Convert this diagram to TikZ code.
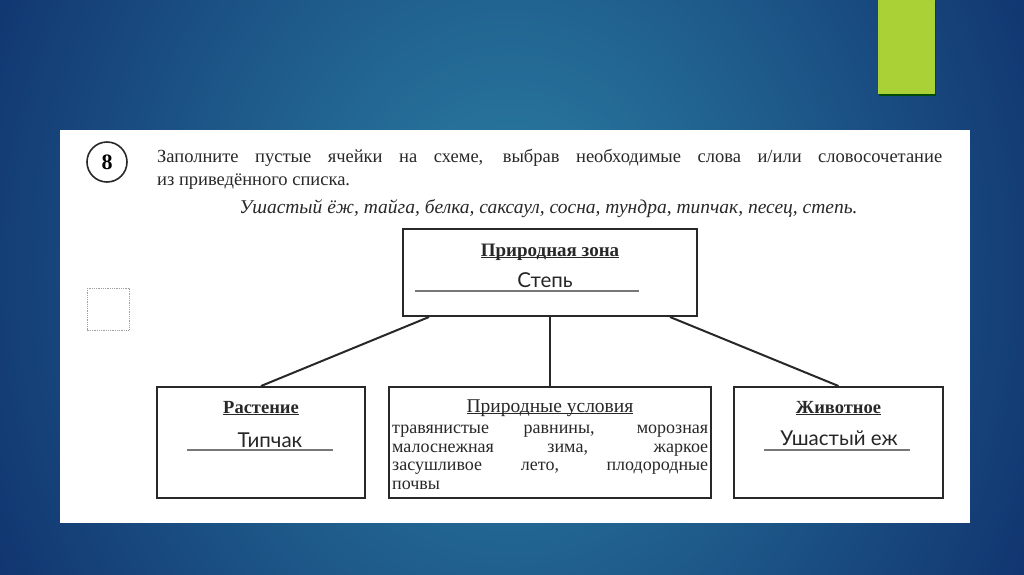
\documentclass[tikz,border=0pt]{standalone}
\usepackage{fontspec}
\setmainfont{Liberation Serif}
\newfontfamily\handfont{Lato}
\usetikzlibrary{positioning}

\definecolor{slidenavy}{RGB}{14,44,106}
\definecolor{slideteal}{RGB}{44,130,166}
\definecolor{slidegreen}{RGB}{170,210,55}
\definecolor{inkgray}{RGB}{40,40,40}
\definecolor{rulegray}{RGB}{120,120,120}

% underline that sits just under the baseline, as in the scanned sheet
\newcommand{\undertext}[1]{\setbox0\hbox{#1}\rlap{\rule[-2.2pt]{\wd0}{1pt}}\box0}

\tikzset{
  cell/.style={draw=inkgray, line width=2pt, fill=white, inner sep=0pt},
  link/.style={draw=inkgray, line width=2pt},
  head/.style={font=\fontsize{18.5}{18.5}\selectfont\bfseries, text=inkgray, inner sep=0pt, anchor=base},
  task/.style={font=\fontsize{18.5}{23}\selectfont, text=inkgray, inner sep=0pt, align=left},
  filled/.style={font=\handfont\fontsize{20.5}{20.5}\selectfont, text=black!85, inner sep=0pt, anchor=base},
  blank/.style={draw=rulegray, line width=1.2pt}
}

\begin{document}
\begin{tikzpicture}[x=1pt, y=-1pt]
% slide background
\fill[slidenavy] (0,0) rectangle (1024,574);
\begin{scope}
  \clip (0,0) rectangle (1024,574);
  \shade[inner color=slideteal, outer color=slidenavy] (510,270) ellipse (640 and 760);
\end{scope}
\fill[black!70!green] (879,1) rectangle (936,96);
\fill[slidegreen] (878,0) rectangle (935,94);
% white sheet
\fill[white] (60,130) rectangle (970,523);
\draw[rulegray!70, densely dotted, line width=0.8pt] (87,288) rectangle (129,330);

% task number and wording
\node[draw=inkgray, line width=1.6pt, circle, minimum size=40pt, inner sep=0pt,
      font=\fontsize{22}{22}\selectfont\bfseries] (num) at (107,162) {8};
\node[task, anchor=base west] (wording) at (157,185)
  {\makebox[785pt][s]{Заполните пустые ячейки на схеме, выбрав необходимые слова и/или словосочетание}\\
   из приведённого списка.};
\node[task, anchor=base, font=\fontsize{19.5}{23}\selectfont\itshape] (wordlist) at (548.5,213)
  {Ушастый ёж, тайга, белка, саксаул, сосна, тундра, типчак, песец, степь.};

% scheme
\node[cell, minimum width=294pt, minimum height=87pt] (zone) at (550,272.5) {};
\node[cell, minimum width=208pt, minimum height=111pt] (plant) at (261,442.5) {};
\node[cell, minimum width=322pt, minimum height=111pt] (cond) at (550,442.5) {};
\node[cell, minimum width=209pt, minimum height=111pt] (animal) at (838.5,442.5) {};

\draw[link] ([xshift=27pt]zone.south west) -- (plant.north);
\draw[link] (zone.south) -- (cond.north);
\draw[link] ([xshift=-28pt]zone.south east) -- (animal.north);

\node[head, font=\fontsize{19}{19}\selectfont\bfseries] (zonehead) at (550,256) {\undertext{Природная зона}};
\node[filled] (zoneword) at (545,287) {Степь};
\draw[blank] ([xshift=13pt]zone.west |- 0,291) -- ++(224,0);

\node[head] (planthead) at (261,413) {\undertext{Растение}};
\node[filled] (plantword) at (270,447) {Типчак};
\draw[blank] ([xshift=31pt]plant.west |- 0,450) -- ++(146,0);

\node[head, font=\fontsize{19.5}{19.5}\selectfont] (condhead) at (550,412) {\undertext{Природные условия}};
\node[head, anchor=base west, align=left, font=\fontsize{18}{18.4}\selectfont] (condtext) at (392,489)
  {\makebox[316pt][s]{травянистые равнины, морозная}\\
   \makebox[316pt][s]{малоснежная зима, жаркое}\\
   \makebox[316pt][s]{засушливое лето, плодородные}\\
   почвы};

\node[head] (animalhead) at (838.5,413) {\undertext{Животное}};
\node[filled] (animalword) at (839,445) {Ушастый еж};
\draw[blank] ([xshift=31pt]animal.west |- 0,450) -- ++(146,0);
\end{tikzpicture}
\end{document}
